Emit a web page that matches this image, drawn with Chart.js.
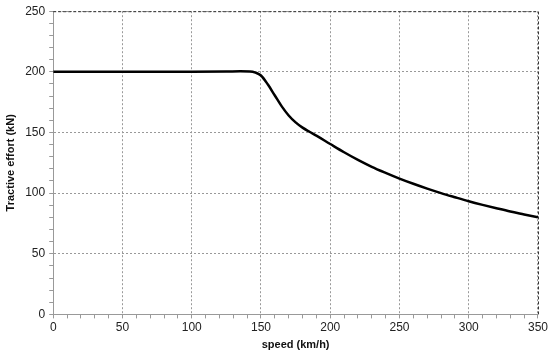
<!DOCTYPE html>
<html lang="en">
<head>
    <meta charset="UTF-8">
    <title>Tractive effort</title>
    <script src="https://cdn.jsdelivr.net/npm/chart.js"></script>
    <style>
        body {
            margin: 0;
            background: #fff;
        }
        .wrap {
            width: 550px;
            height: 354px;
        }
    </style>
</head>
<body>
    <div class="wrap">
        <canvas id="effortChart" width="550" height="354"></canvas>
    </div>

    <script>
        // values
        const speeds = [0, 50, 100, 125, 135, 142, 146, 150, 155, 160, 165, 170, 175, 180, 185, 190,
                        200, 210, 220, 230, 240, 250, 260, 270, 280, 290, 300, 310, 320, 330, 340, 350];
        const effort = [200, 200, 200, 200.2, 200.4, 200.3, 199.4, 197, 189.5, 180.5, 171.5, 164, 158.3, 154, 150.6, 147.4,
                        140.5, 133.7, 127.4, 121.7, 116.7, 112, 107.7, 103.7, 100, 96.6, 93.3, 90.3, 87.5, 84.8, 82.4, 80];
        const xTicks = [0, 50, 100, 150, 200, 250, 300, 350];
        const yTicks = [0, 50, 100, 150, 200, 250];

        const points = speeds.map((s, i) => ({ x: s, y: effort[i] }));

        const isMajor = (v, list) => list.includes(v);

        // dashed frame on top and right of the plot
        const framePlugin = {
            id: 'frame',
            afterDraw(chart) {
                const { ctx, chartArea: a } = chart;
                ctx.save();
                ctx.strokeStyle = '#333';
                ctx.lineWidth = 1;
                ctx.setLineDash([3, 2]);
                ctx.beginPath();
                ctx.moveTo(a.left, a.top + 0.5);
                ctx.lineTo(a.right + 0.5, a.top + 0.5);
                ctx.lineTo(a.right + 0.5, a.bottom);
                ctx.stroke();
                ctx.restore();
            }
        };

        const tickFont = { family: "'Liberation Sans', Arial, sans-serif", size: 12 };
        const titleFont = { family: "'Liberation Sans', Arial, sans-serif", size: 11, weight: 'bold' };

        new Chart(document.getElementById('effortChart'), {
            type: 'scatter',
            data: {
                datasets: [{
                    data: points,
                    showLine: true,
                    borderColor: '#000',
                    borderWidth: 2.5,
                    pointRadius: 0,
                    cubicInterpolationMode: 'monotone',
                    fill: false
                }]
            },
            options: {
                responsive: false,
                animation: false,
                layout: { padding: { top: 4, right: 6, left: 4, bottom: 2 } },
                plugins: {
                    legend: { display: false },
                    tooltip: { enabled: false }
                },
                scales: {
                    x: {
                        type: 'linear',
                        min: 0,
                        max: 350,
                        ticks: {
                            stepSize: 10,
                            autoSkip: false,
                            maxRotation: 0,
                            color: '#222',
                            font: tickFont,
                            padding: 2,
                            callback: v => isMajor(v, xTicks) ? String(v) : ''
                        },
                        grid: {
                            color: c => isMajor(c.tick.value, xTicks) && c.tick.value !== 0 ? '#999' : 'rgba(0,0,0,0)',
                            tickColor: '#999',
                            tickLength: 4,
                            lineWidth: 1
                        },
                        border: { color: '#999', width: 1, dash: [2, 2] },
                        title: {
                            display: true,
                            text: 'speed (km/h)',
                            color: '#111',
                            font: titleFont,
                            padding: { top: 2, bottom: 0 }
                        }
                    },
                    y: {
                        min: 0,
                        max: 250,
                        ticks: {
                            stepSize: 10,
                            autoSkip: false,
                            color: '#222',
                            font: tickFont,
                            padding: 4,
                            callback: v => isMajor(v, yTicks) ? String(v) : ''
                        },
                        grid: {
                            color: c => isMajor(c.tick.value, yTicks) && c.tick.value !== 0 ? '#999' : 'rgba(0,0,0,0)',
                            tickColor: '#999',
                            tickLength: 4,
                            lineWidth: 1
                        },
                        border: { color: '#999', width: 1, dash: [2, 2] },
                        title: {
                            display: true,
                            text: 'Tractive effort (kN)',
                            color: '#111',
                            font: titleFont,
                            padding: { top: 0, bottom: 4 }
                        }
                    }
                }
            },
            plugins: [framePlugin]
        });
    </script>
</body>
</html>
